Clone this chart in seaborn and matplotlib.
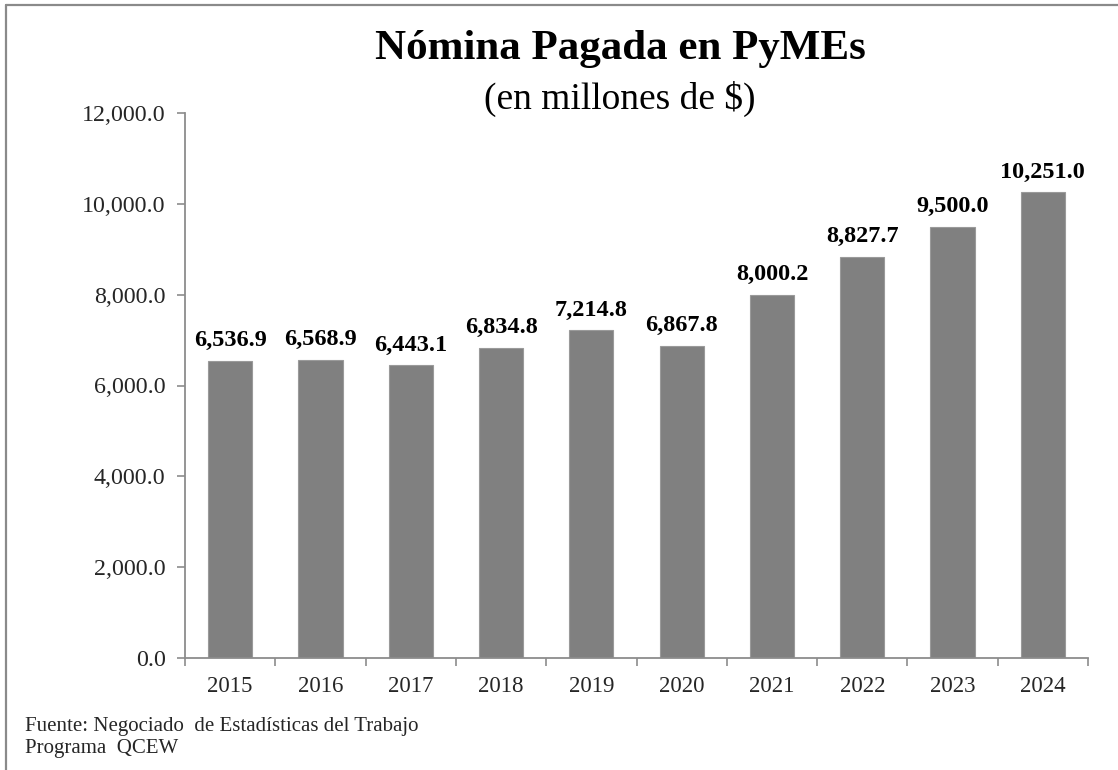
import matplotlib
matplotlib.use("Agg")
import matplotlib.pyplot as plt
import seaborn as sns
import pandas as pd
from matplotlib.lines import Line2D
from matplotlib.ticker import FuncFormatter, FixedLocator

years = ["2015", "2016", "2017", "2018", "2019", "2020", "2021", "2022", "2023", "2024"]
values = [6536.9, 6568.9, 6443.1, 6834.8, 7214.8, 6867.8, 8000.2, 8827.7, 9500.0, 10251.0]
title = "Nómina Pagada en PyMEs"
subtitle = "(en millones de $)"
source_lines = ["Fuente: Negociado  de Estadísticas del Trabajo", "Programa  QCEW"]

sns.set_theme(style="white")
plt.rcParams["font.family"] = ["Liberation Serif", "DejaVu Serif"]

df = pd.DataFrame({"year": years, "value": values})

fig = plt.figure(figsize=(11.18, 7.70), dpi=100)
ax = fig.add_axes([185/1118, 1 - 658/770, (1088 - 185)/1118, (658 - 113)/770])

sns.barplot(data=df, x="year", y="value", color="#808080", saturation=1,
            width=0.49, edgecolor="#9a9a9a", linewidth=0.8, ax=ax)

ax.set_xlim(-0.5, len(years) - 0.5)
ax.set_ylim(0, 12000)
ax.set_yticks(range(0, 12001, 2000))
ax.yaxis.set_major_formatter(FuncFormatter(lambda v, p: f"{v:,.1f}"))
ax.set_xlabel("")
ax.set_ylabel("")

for s in ["top", "right"]:
    ax.spines[s].set_visible(False)
for s in ["left", "bottom"]:
    ax.spines[s].set_color("#8c8c8c")
    ax.spines[s].set_linewidth(1.3)

ax.tick_params(axis="y", which="major", direction="out", length=6, width=1.2,
               color="#8c8c8c", labelsize=17.3, pad=8, left=True)
ax.tick_params(axis="x", which="major", length=0, labelsize=16.5, pad=13)
ax.xaxis.set_minor_locator(FixedLocator([i - 0.5 for i in range(len(years) + 1)]))
ax.tick_params(axis="x", which="minor", direction="out", length=6, width=1.2,
               color="#8c8c8c", bottom=True)

for i, v in enumerate(values):
    ax.annotate(f"{v:,.1f}", xy=(i, v), xytext=(0, 7), textcoords="offset points",
                ha="center", va="bottom", fontsize=17.5, fontweight="bold", color="black")

fig.text(620/1118, 1 - 49/770, title, ha="center", va="center",
         fontsize=31, fontweight="bold", color="black")
fig.text(620/1118, 1 - 99/770, subtitle, ha="center", va="center",
         fontsize=27, color="black")

fig.text(25/1118, 1 - 727/770, source_lines[0], ha="left", va="center", fontsize=15)
fig.text(25/1118, 1 - 748/770, source_lines[1], ha="left", va="center", fontsize=15)

# outer frame
fig.add_artist(Line2D([6/1118, 1.0], [1 - 5/770, 1 - 5/770], transform=fig.transFigure,
                      color="#8a8a8a", linewidth=1.6))
fig.add_artist(Line2D([6/1118, 6/1118], [0.0, 1 - 5/770], transform=fig.transFigure,
                      color="#8a8a8a", linewidth=1.6))

fig.savefig("out.png", dpi=100)
